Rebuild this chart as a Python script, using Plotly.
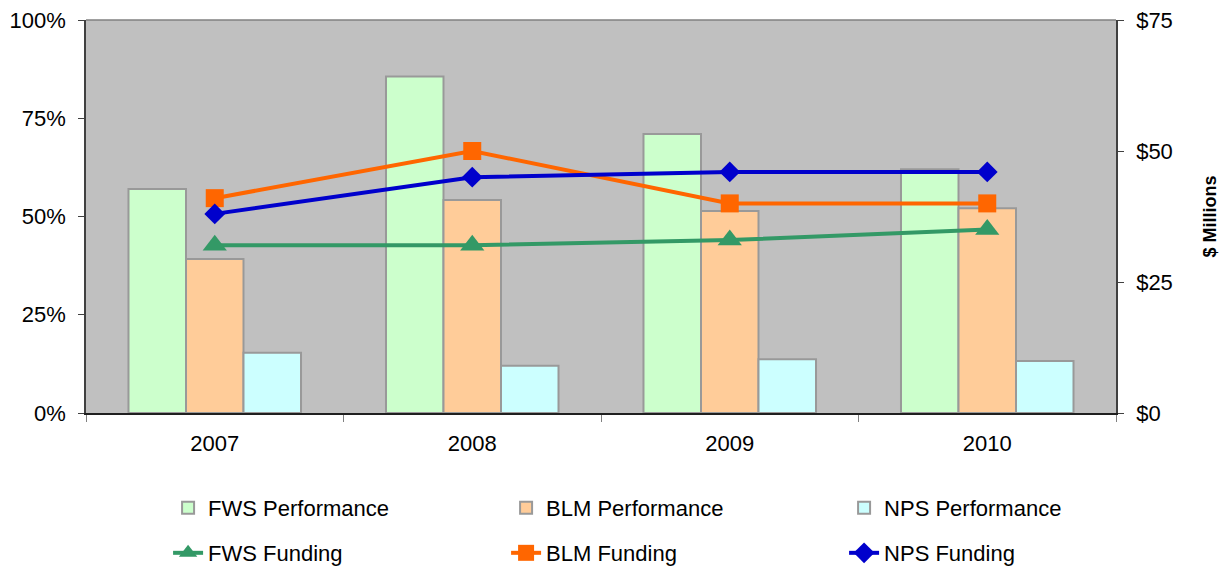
import plotly.graph_objects as go

years = ["2007", "2008", "2009", "2010"]
fws_perf = [57, 85.6, 71, 62]
blm_perf = [39.2, 54.2, 51.4, 52.1]
nps_perf = [15.3, 12.0, 13.7, 13.2]
fws_fund = [32, 32, 33, 35]
blm_fund = [41, 50, 40, 40]
nps_fund = [38, 45, 46, 46]

pct_ticks = [0, 25, 50, 75, 100]
usd_ticks = [0, 25, 50, 75]

FONT = "Liberation Sans, Arial, sans-serif"
fig = go.Figure()

bar_line = dict(color="#999999", width=2)
fig.add_bar(x=years, y=fws_perf, name="FWS Performance", marker=dict(color="#CCFFCC", line=bar_line), legend="legend")
fig.add_bar(x=years, y=blm_perf, name="BLM Performance", marker=dict(color="#FFCC99", line=bar_line), legend="legend")
fig.add_bar(x=years, y=nps_perf, name="NPS Performance", marker=dict(color="#CCFFFF", line=bar_line), legend="legend")

fig.add_scatter(x=years, y=fws_fund, name="FWS Funding", yaxis="y2", mode="lines+markers",
                line=dict(color="#339966", width=4), marker=dict(symbol="triangle-up", size=21, color="#339966"),
                legend="legend2")
fig.add_scatter(x=years, y=blm_fund, name="BLM Funding", yaxis="y2", mode="lines+markers",
                line=dict(color="#FF6600", width=4), marker=dict(symbol="square", size=18, color="#FF6600"),
                legend="legend2")
fig.add_scatter(x=years, y=nps_fund, name="NPS Funding", yaxis="y2", mode="lines+markers",
                line=dict(color="#0000CC", width=4), marker=dict(symbol="diamond", size=16, color="#0000CC"),
                legend="legend2")

leg_common = dict(orientation="h", xref="container", yref="container", xanchor="left", yanchor="middle",
                  entrywidth=293, entrywidthmode="pixels", font=dict(size=22),
                  bgcolor="rgba(0,0,0,0)")

fig.update_layout(
    width=1222, height=559,
    margin=dict(l=78, r=114, t=12, b=154, autoexpand=False),
    paper_bgcolor="white", plot_bgcolor="#C0C0C0",
    font=dict(family=FONT, size=22, color="black"),
    barmode="group", bargap=0.33, bargroupgap=0,
    xaxis=dict(type="category", showgrid=False, showline=True, linecolor="#202020", linewidth=1.5,
               ticks="outside", tickson="boundaries", ticklen=7, tickcolor="#808080",
               ticklabelstandoff=10, tickfont=dict(size=22), automargin=False,
               ticklabeloverflow="allow"),
    yaxis=dict(range=[0, 100], tickmode="array", tickvals=pct_ticks,
               ticktext=[f"{v}%" for v in pct_ticks], showgrid=False,
               showline=True, linecolor="#404040", linewidth=1.5, ticks="outside", ticklen=6,
               tickcolor="#404040", ticklabelstandoff=8, zeroline=False, tickfont=dict(size=22),
               automargin=False, ticklabeloverflow="allow"),
    yaxis2=dict(range=[0, 75], tickmode="array", tickvals=usd_ticks,
                ticktext=[f"${v}" for v in usd_ticks], overlaying="y", side="right",
                showgrid=False, showline=True, linecolor="#404040", linewidth=1.5, ticks="outside",
                ticklen=6, tickcolor="#404040", ticklabelstandoff=8, zeroline=False,
                tickfont=dict(size=22), automargin=False, ticklabeloverflow="allow",
                title=dict(text="<b>$ Millions</b>", font=dict(size=18), standoff=32)),
    legend=dict(x=0.131, y=0.1055, **leg_common),
    legend2=dict(x=0.131, y=0.025, **leg_common),
    shapes=[dict(type="line", xref="paper", yref="paper", x0=0, x1=1, y0=1, y1=1,
                 line=dict(color="#808080", width=1.5))],
)

fig.write_html("out.html")
